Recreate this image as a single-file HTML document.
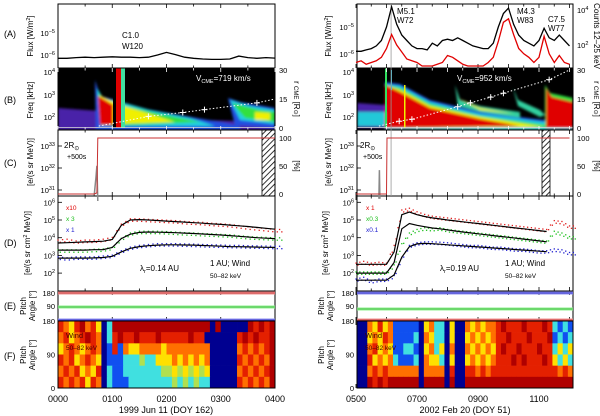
<!DOCTYPE html>
<html><head><meta charset="utf-8"><style>
html,body{margin:0;padding:0;background:#fff;}
svg{display:block;font-family:"Liberation Sans",sans-serif;}
</style></head><body>
<svg id="fig" width="600" height="416" viewBox="0 0 600 416" xmlns="http://www.w3.org/2000/svg">
<defs>
<filter id="soft" x="-5%" y="-5%" width="110%" height="110%"><feGaussianBlur stdDeviation="1.2"/></filter>
<clipPath id="clipBL"><rect x="58" y="68" width="217" height="62"/></clipPath>
<clipPath id="clipBR"><rect x="357" y="68" width="216" height="62"/></clipPath>
<pattern id="hatch" width="4" height="4" patternUnits="userSpaceOnUse" patternTransform="rotate(45)"><rect width="4" height="4" fill="#fff"/><line x1="0" y1="0" x2="0" y2="4" stroke="#000" stroke-width="1.6"/></pattern>
</defs>

<g font-size="9" fill="#000">
<text x="4" y="37">(A)</text><text x="4" y="103">(B)</text><text x="4" y="166">(C)</text>
<text x="4" y="246">(D)</text><text x="4" y="309">(E)</text><text x="4" y="359">(F)</text>
</g>

<g clip-path="url(#clipBL)">
<rect x="58" y="68" width="217" height="62" fill="#000"/>
<g filter="url(#soft)">
<polygon points="58,108 100,111 150,116 200,120 275,122 275,130 58,130" fill="#4a20a8"/>
<polygon points="95,80 100,96 115,100 140,108 180,115 220,122 240,126 240,130 96,130" fill="#2050e0"/>
<polygon points="97,88 103,98 125,103 150,110 190,118 215,126 100,126" fill="#20d0e0"/>
<polygon points="98,92 105,100 125,106 160,114 200,122 110,126" fill="#30e040"/>
<polygon points="99,95 120,105 150,114 175,122 112,124" fill="#f0f000"/>
<polygon points="98,96 105,100 113,105 113,125 100,125" fill="#e00000"/>
<polygon points="228,98 240,102 275,108 275,128 235,125" fill="#2050e0"/>
<polygon points="230,100 250,106 275,110 275,124 240,120" fill="#20d0e0"/>
<polygon points="232,103 260,110 275,112 275,122 245,118" fill="#30e040"/>
<polygon points="255,112 270,113 270,120 255,120" fill="#f0f000"/>
</g>
<rect x="113" y="68" width="3" height="60" fill="#000"/>
<rect x="116" y="68" width="5" height="60" fill="#e00000"/>
<rect x="121" y="68" width="4" height="60" fill="#40e0a0"/>
<line x1="58" y1="127.5" x2="275" y2="127.5" stroke="#ddd" stroke-width="0.8"/>
</g>

<g clip-path="url(#clipBR)">
<rect x="357" y="68" width="216" height="62" fill="#000"/>
<g filter="url(#soft)">
<polygon points="357,103 385,105 385,128 357,128" fill="#4a20a8"/>
<polygon points="357,112 385,112 385,126 357,126" fill="#20c8d8"/>
<polygon points="385,82 400,84 430,100 480,112 560,122 573,124 573,130 385,130" fill="#2050e0"/>
<polygon points="385,84 400,86 430,102 480,114 560,124 573,126 573,130 385,130" fill="#20d0e0"/>
<polygon points="385,85 400,88 430,104 480,116 560,127 385,128" fill="#30e040"/>
<polygon points="385,85 400,90 430,106 480,117 545,127 385,128" fill="#f0f000"/>
<polygon points="385,85 400,92 430,108 480,119 520,126 385,128" fill="#e00000"/>
<polygon points="455,85 460,100 480,106 520,112 520,118 480,112 458,106" fill="#30d0a0"/>
<polygon points="458,98 480,108 515,114 480,110" fill="#f0f000"/>
<polygon points="513,88 518,100 540,110 545,115 540,117 518,106" fill="#30d0a0"/>
<polygon points="545,85 550,93 573,98 573,128 545,128" fill="#30e040"/>
<polygon points="546,88 552,97 573,102 573,128 546,128" fill="#e00000"/>
</g>
<rect x="385" y="68" width="2" height="60" fill="#30e060"/>
<rect x="404" y="85" width="1.5" height="43" fill="#f0f000"/>
<rect x="391" y="70" width="1" height="20" fill="#30c0e0"/>
<line x1="357" y1="127.5" x2="573" y2="127.5" stroke="#ddd" stroke-width="0.8"/>
</g>

<rect x="262" y="130" width="13" height="66" fill="url(#hatch)" stroke="#000" stroke-width="0.8"/>
<rect x="542" y="130" width="8" height="66" fill="url(#hatch)" stroke="#000" stroke-width="0.8"/>

<g id="dyn"></g>

<g font-size="8" fill="#000">
<text x="122" y="38">C1.0</text><text x="122" y="49">W120</text>
<text x="397" y="14">M5.1</text><text x="397" y="23">W72</text>
<text x="517" y="14">M4.3</text><text x="517" y="23">W83</text>
<text x="548" y="22">C7.5</text><text x="548" y="31">W77</text>
<text x="196" y="81" fill="#fff">V<tspan font-size="5.5" dy="2">CME</tspan><tspan dy="-2">=719 km/s</tspan></text>
<text x="457" y="81" fill="#fff">V<tspan font-size="5.5" dy="2">CME</tspan><tspan dy="-2">=952 km/s</tspan></text>
<text x="64" y="148">2R<tspan font-size="6" dy="2">⊙</tspan></text><text x="67" y="159" font-size="7">+500s</text>
<text x="360" y="148">2R<tspan font-size="6" dy="2">⊙</tspan></text><text x="363" y="159" font-size="7">+500s</text>
<text x="140" y="271">λ<tspan font-size="5.5" dy="2">r</tspan><tspan dy="-2">=0.14 AU</tspan></text>
<text x="210" y="266">1 AU; Wind</text><text x="210" y="278" font-size="6.5">50–82 keV</text>
<text x="440" y="271">λ<tspan font-size="5.5" dy="2">r</tspan><tspan dy="-2">=0.19 AU</tspan></text>
<text x="505" y="266">1 AU; Wind</text><text x="505" y="278" font-size="6.5">50–82 keV</text>
<text x="66" y="210" fill="#e00000" font-size="6.5">x10</text>
<text x="66" y="221" fill="#20c020" font-size="6.5">x 3</text>
<text x="66" y="232" fill="#2020d0" font-size="6.5">x 1</text>
<text x="366" y="210" fill="#e00000" font-size="6.5">x 1</text>
<text x="366" y="221" fill="#20c020" font-size="6.5">x0.3</text>
<text x="366" y="232" fill="#2020d0" font-size="6.5">x0.1</text>
</g>

<g font-size="8" fill="#000" text-anchor="middle">
<text transform="translate(33,36) rotate(-90)">Flux [W/m<tspan font-size="5.5" dy="-3">2</tspan><tspan dy="3">]</tspan></text>
<text transform="translate(33,100) rotate(-90)">Freq [kHz]</text>
<text transform="translate(33,162) rotate(-90)">[e/(s sr MeV)]</text>
<text transform="translate(30,243) rotate(-90)">[e/(s sr cm<tspan font-size="5.5" dy="-3">2</tspan><tspan dy="3"> MeV)]</tspan></text>
<text transform="translate(26,306) rotate(-90)">Pitch</text><text transform="translate(35,306) rotate(-90)">Angle [°]</text>
<text transform="translate(26,355) rotate(-90)">Pitch</text><text transform="translate(35,355) rotate(-90)">Angle [°]</text>
<text transform="translate(331,36) rotate(-90)">Flux [W/m<tspan font-size="5.5" dy="-3">2</tspan><tspan dy="3">]</tspan></text>
<text transform="translate(331,100) rotate(-90)">Freq [kHz]</text>
<text transform="translate(331,162) rotate(-90)">[e/(s sr MeV)]</text>
<text transform="translate(328,243) rotate(-90)">[e/(s sr cm<tspan font-size="5.5" dy="-3">2</tspan><tspan dy="3"> MeV)]</tspan></text>
<text transform="translate(324,306) rotate(-90)">Pitch</text><text transform="translate(333,306) rotate(-90)">Angle [°]</text>
<text transform="translate(324,355) rotate(-90)">Pitch</text><text transform="translate(333,355) rotate(-90)">Angle [°]</text>
<text transform="translate(294,99) rotate(90)">r <tspan font-size="6">CME</tspan> [R<tspan font-size="6">⊙</tspan>]</text>
<text transform="translate(294,166) rotate(90)">[%]</text>
<text transform="translate(594,36) rotate(90)">Counts 12–25 keV</text>
<text transform="translate(594,99) rotate(90)">r <tspan font-size="6">CME</tspan> [R<tspan font-size="6">⊙</tspan>]</text>
<text transform="translate(594,166) rotate(90)">[%]</text>
<text x="166" y="413" font-size="9">1999 Jun 11 (DOY 162)</text>
<text x="465" y="413" font-size="9">2002 Feb 20 (DOY 51)</text>
</g>
</svg>
<script>
// ---------- DATA ----------
const leftTicks=["0000","0100","0200","0300","0400"];
const rightTicks=["0500","0700","0900","1100"];
const leftFluxLog=[-6.15,-6.15,-6.12,-6.1,-6.12,-6.1,-6.08,-6.1,-6.1,-6.12,-6.1,-6.0,-5.88,-5.98,-6.1,-6.15,-6.18,-6.2,-6.2,-6.18,-6.05,-6.12,-6.15,-6.12,-6.14];
const rightFluxLog=[-5.9,-5.9,-5.85,-5.8,-5.7,-5.5,-5.0,-4.25,-4.9,-5.3,-5.5,-5.7,-5.8,-5.8,-5.85,-5.6,-5.7,-5.5,-5.45,-5.5,-5.4,-5.5,-5.6,-5.7,-5.75,-5.8,-5.8,-5.6,-5.0,-4.5,-4.3,-4.9,-5.3,-5.5,-5.6,-5.7,-5.5,-5.05,-5.4,-5.5,-5.3,-5.5,-5.7];
const rightCountsLog=[1.0,1.1,0.9,1.0,1.1,1.3,1.8,2.6,2.0,1.6,1.2,1.1,1.0,0.8,0.8,0.8,0.9,1.0,1.4,1.3,1.1,0.9,0.8,0.8,0.8,0.8,1.0,1.3,2.2,3.3,3.5,2.6,1.8,1.5,1.3,1.0,1.3,2.5,1.5,1.0,1.4,1.0,0.9];
const leftCmeTimes=[45,100,138,162,220,240];
const leftCmeR=[1,6,8,9.5,13,15];
const rightCmeTimes=[45,85,110,200,225,265,290,380,420];
const rightCmeR=[1,3.5,4.5,11,13,16,18,25,30];
const leftPct=[[0,0],[40,0],[43,2],[44,100],[240,100]];
const rightPct=[[0,0],[60,0],[61,100],[420,100]];
const leftGreyLog=[[40,30.75],[42,31.6],[43,32.1],[44,30.5]];
const rightGreyLog=[[45,30.6],[46,31.9],[47,30.6]];
const leftRed=[3.8,3.85,3.75,3.8,3.8,3.85,3.95,4.7,5.0,5.0,4.97,4.95,4.92,4.9,4.85,4.82,4.8,4.75,4.72,4.68,4.62,4.55,4.5,4.45,4.4];
const leftGreen=[3.25,3.25,3.25,3.25,3.28,3.3,3.4,3.9,4.2,4.3,4.3,4.3,4.28,4.25,4.22,4.2,4.17,4.15,4.12,4.1,4.05,4.0,3.97,3.95,3.93];
const leftBlue=[2.85,2.8,2.85,2.85,2.85,2.9,2.95,3.2,3.4,3.5,3.55,3.6,3.6,3.6,3.58,3.57,3.55,3.53,3.52,3.5,3.5,3.48,3.47,3.46,3.45];
const leftFitA=[3.7,3.72,3.74,3.76,3.78,3.8,3.9,4.7,5.0,5.02,5.0,4.97,4.94,4.91,4.88,4.85,4.82,4.78,4.75,4.71,4.67,4.63,4.58,4.53,4.48];
const leftFitB=[3.3,3.3,3.3,3.3,3.32,3.33,3.45,3.95,4.2,4.3,4.32,4.31,4.3,4.28,4.26,4.24,4.21,4.18,4.15,4.12,4.08,4.04,4.0,3.97,3.95];
const leftFitC=[2.85,2.85,2.85,2.85,2.86,2.88,2.95,3.2,3.4,3.5,3.55,3.58,3.6,3.6,3.59,3.58,3.56,3.54,3.52,3.5,3.49,3.48,3.47,3.46,3.45];
const rightRed=[2.5,2.6,2.5,2.55,2.5,3.5,5.5,5.6,5.4,5.25,5.15,5.1,5.05,5.0,4.95,4.9,4.85,4.8,4.75,4.7,4.65,4.6,4.55,4.5,4.45,4.4,4.9,4.85,4.6];
const rightGreen=[2.0,2.0,2.0,2.0,2.0,2.4,3.6,4.2,4.4,4.5,4.45,4.5,4.4,4.35,4.3,4.25,4.2,4.15,4.1,4.05,4.0,3.95,3.9,3.85,3.8,3.75,4.3,4.2,4.0];
const rightBlue=[1.6,1.7,1.5,1.6,1.6,1.8,2.8,3.5,3.65,3.7,3.7,3.68,3.65,3.6,3.55,3.5,3.5,3.45,3.4,3.4,3.35,3.3,3.3,3.25,3.2,3.2,3.3,3.25,3.1];
const rightFitA=[2.5,2.5,2.5,2.5,2.5,3.2,5.3,5.45,5.3,5.2,5.12,5.06,5.0,4.95,4.9,4.85,4.8,4.75,4.7,4.65,4.6,4.55,4.5,4.45,4.4,4.35];
const rightFitB=[2.0,2.0,2.0,2.0,2.0,2.6,4.5,4.8,4.7,4.62,4.55,4.5,4.44,4.38,4.32,4.27,4.22,4.17,4.12,4.07,4.02,3.97,3.92,3.87,3.82,3.77];
const rightFitC=[1.6,1.6,1.6,1.6,1.6,1.9,2.9,3.5,3.65,3.68,3.66,3.63,3.6,3.57,3.54,3.51,3.48,3.45,3.42,3.39,3.36,3.33,3.3,3.27,3.24,3.21];
const leftPitchRows=["1231021364000000000000000000606666601010",
"2132101264101101110111110116666661010110",
"3212321265152332222322222222666662121210",
"1213212365554447443332323232666661212120",
"2121323164554444444773737373666662121210",
"1212131264555444444447474744666661212120"];
const rightPitchRows=["662313255555632446366232322101110111014545",
"663231255554623446366323232110111011105454",
"662132355445632436266232323101101110114343",
"661323245554623346366323232111010111013434",
"662121222222622226166112121111111111111212",
"660101000000600006066000000000000000000000"];
</script>
<script>
const NS="http://www.w3.org/2000/svg";
const dyn=document.getElementById("dyn");
function mk(tag,attrs,parent){const e=document.createElementNS(NS,tag);for(const k in attrs)e.setAttribute(k,attrs[k]);(parent||dyn).appendChild(e);return e;}
const L={x0:58,x1:275,t1:240}, R={x0:357,x1:573,t1:425};
function xL(m){return L.x0+m*(L.x1-L.x0)/L.t1;}
function xR(m){return 356+m*30.5/60;}
const yA_L=v=>33-(v+5)*22, yA_R=v=>27-(v+5)*27, yCnt=v=>45-(v-2)*17.5;
const yB=r=>128-r*(58/30);
const yPct=p=>194-p*0.56;
const yCL=v=>168-(v-32)*22;
const yD=v=>220-(v-5)*17.7;
const yP=a=>388-a*(67/180);
function pathFrom(xs,ys){return xs.map((x,i)=>(i?"L":"M")+x.toFixed(1)+","+ys[i].toFixed(1)).join("");}
const panels=[[4,68],[68,130],[130,196],[196,291],[291,321],[321,388]];
function frame(side){
  const P=side==="L"?L:R;
  panels.forEach((p,i)=>{
    const r=mk("rect",{x:P.x0,y:p[0],width:P.x1-P.x0,height:p[1]-p[0],fill:"none",stroke:"#000","stroke-width":"1"});
    
    
    const step=30, tmax=side==="L"?240:420;
    for(let m=0;m<=tmax;m+=step){
      const x=side==="L"?xL(m):xR(m);
      const len=(m%60===0)?4:2.5;
      const col=(i==1)?"#fff":"#000";
      mk("line",{x1:x,y1:p[0],x2:x,y2:p[0]+len,stroke:col,"stroke-width":"0.8"});
      mk("line",{x1:x,y1:p[1],x2:x,y2:p[1]-len,stroke:col,"stroke-width":"0.8"});
    }
  });
}
frame("L");frame("R");
leftTicks.forEach((t,i)=>{const e=mk("text",{x:xL(i*60),y:402,"font-size":"9","text-anchor":"middle"});e.textContent=t;

});
rightTicks.forEach((t,i)=>{const e=mk("text",{x:xR(i*120),y:402,"font-size":"9","text-anchor":"middle"});e.textContent=t;

});
function supLabel(x,y,base,exp,anchor){
  const t=mk("text",{x:x,y:y+3,"font-size":"7.5","text-anchor":anchor||"end"});
  
  
  const a=mk("tspan",{},t);a.textContent=base;
  if(exp!==null){const b=mk("tspan",{"font-size":"5.5",dy:"-3"},t);b.textContent=exp;}
}
[[L.x0,0],[R.x0,1]].forEach(([x0,s])=>{
  const ax=x0-3;
  if(s===0){supLabel(ax,yA_L(-5),"10","−5");supLabel(ax,yA_L(-6),"10","−6");}
  else{supLabel(ax,yA_R(-5),"10","−5");supLabel(ax,yA_R(-6),"10","−6");}
  supLabel(ax,72,"10","4");supLabel(ax,95,"10","3");supLabel(ax,117,"10","2");
  supLabel(ax,yCL(33),"10","33");supLabel(ax,yCL(32),"10","32");supLabel(ax,yCL(31),"10","31");
  [6,5,4,3,2].forEach(d=>supLabel(ax,yD(d),"10",String(d)));
  supLabel(ax,293,"180",null);supLabel(ax,306,"90",null);
  supLabel(ax,yP(180),"180",null);supLabel(ax,yP(90),"90",null);supLabel(ax,yP(0),"0",null);
  [yD(6),yD(5),yD(4),yD(3),yD(2),yCL(33),yCL(32),yCL(31),yP(90)].forEach(y=>mk("line",{x1:x0,y1:y,x2:x0+4,y2:y,stroke:"#000","stroke-width":"0.8"}));
});
[[L.x1+4,0],[R.x1+4,1]].forEach(([x,s])=>{
  supLabel(x,yB(30),"30",null,"start");supLabel(x,yB(15),"15",null,"start");supLabel(x,yB(0),"0",null,"start");
  supLabel(x,yPct(100),"100",null,"start");supLabel(x,yPct(50),"50",null,"start");supLabel(x,yPct(0),"0",null,"start");
});
supLabel(R.x1+4,yCnt(4),"10","4","start");supLabel(R.x1+4,yCnt(2),"10","2","start");
let p=mk("path",{d:pathFrom(leftFluxLog.map((v,i)=>xL(i*10)),leftFluxLog.map(yA_L)),fill:"none",stroke:"#000","stroke-width":"1.3"});


mk("line",{x1:xR(69),y1:4,x2:xR(69),y2:196,stroke:"#999","stroke-width":"0.8"});
p=mk("path",{d:pathFrom(rightCountsLog.map((v,i)=>xR(i*10)),rightCountsLog.map(yCnt)),fill:"none",stroke:"#e00000","stroke-width":"1.3"});


p=mk("path",{d:pathFrom(rightFluxLog.map((v,i)=>xR(i*10)),rightFluxLog.map(yA_R)),fill:"none",stroke:"#000","stroke-width":"1.3"});


function cme(times,rs,xf,name){
  const pth=mk("path",{d:pathFrom(times.map(xf),rs.map(yB)),fill:"none",stroke:"#fff","stroke-width":"1","stroke-dasharray":"1.5 2"});
  
  
  times.forEach((t,i)=>{if(i===0||i===times.length-1)return;const x=xf(t),y=yB(rs[i]);
    mk("path",{d:`M${x-3},${y}h6M${x},${y-3}v6`,stroke:"#fff","stroke-width":"1"});});
}
cme(leftCmeTimes,leftCmeR,xL,"left-cme-height-line");
cme(rightCmeTimes,rightCmeR,xR,"right-cme-height-line");
function pct(arr,xf,name){const pth=mk("path",{d:pathFrom(arr.map(a=>xf(a[0])),arr.map(a=>yPct(a[1]))),fill:"none",stroke:"#c83030","stroke-width":"1"});
  
  }
function grey(arr,xf){const x=arr.map(a=>xf(a[0]));const y=arr.map(a=>yCL(a[1]));
  mk("path",{d:pathFrom(x,y),fill:"none",stroke:"#888","stroke-width":"1.5"});}
grey(leftGreyLog,xL);grey(rightGreyLog,xR);
pct(leftPct,xL,"left-release-percent-line");pct(rightPct,xR,"right-release-percent-line");
function scatter(vals,step,xf,col,name){
  const g=mk("g",{fill:col});
  
  
  vals.forEach((v,i)=>{for(let k=0;k<4;k++){const t=i*step+k*step/4;const vv=i<vals.length-1?v+(vals[i+1]-v)*k/4:v;
    mk("rect",{x:xf(t)-0.6,y:yD(vv)+((k%2)?1.2:-1.2)-0.6,width:1.3,height:1.3},g);}});
}
function fit(vals,step,xf,name){const pth=mk("path",{d:pathFrom(vals.map((v,i)=>xf(i*step)),vals.map(yD)),fill:"none",stroke:"#000","stroke-width":"1.2"});
  
  }
scatter(leftRed,10,xL,"#e02020","left-red-series");scatter(leftGreen,10,xL,"#20c020","left-green-series");scatter(leftBlue,10,xL,"#2020d0","left-blue-series");
fit(leftFitA,10,xL,"left-fit-upper");fit(leftFitB,10,xL,"left-fit-middle");fit(leftFitC,10,xL,"left-fit-lower");
scatter(rightRed,15,xR,"#e02020","right-red-series");scatter(rightGreen,15,xR,"#20c020","right-green-series");scatter(rightBlue,15,xR,"#2020d0","right-blue-series");
fit(rightFitA,15,xR,"right-fit-upper");fit(rightFitB,15,xR,"right-fit-middle");fit(rightFitC,15,xR,"right-fit-lower");
function eLine(x0,x1,y,col,light){mk("line",{x1:x0,y1:y,x2:x1,y2:y,stroke:light,"stroke-width":"3"});mk("line",{x1:x0,y1:y,x2:x1,y2:y,stroke:col,"stroke-width":"0.8"});}
eLine(L.x0,L.x1,293,"#c03030","#f09090");eLine(L.x0,L.x1,307,"#30b030","#90f090");eLine(L.x0,L.x1,320,"#2020c0","#9090f0");
eLine(R.x0,R.x1,293,"#2020c0","#9090f0");eLine(R.x0,R.x1,309,"#30b030","#90f090");eLine(R.x0,R.x1,320,"#c03030","#f09090");
const pal={"0":"#b00000","1":"#e42000","2":"#ff7000","3":"#ffe000","4":"#40e0e0","5":"#1050f0","6":"#000090","7":"#b0e050"};
function heat(rows,x0,x1,name){
  const g=mk("g",{});
  
  
  const n=rows[0].length,w=(x1-x0)/n,h=(yP(0)-yP(180))/rows.length;
  rows.forEach((r,ri)=>{for(let c=0;c<n;c++){mk("rect",{x:(x0+c*w).toFixed(2),y:(yP(180)+ri*h).toFixed(2),width:(w+0.4).toFixed(2),height:(h+0.3).toFixed(2),fill:pal[r[c]]||"#e42000"},g);}});
  mk("rect",{x:x0,y:yP(180),width:x1-x0,height:yP(0)-yP(180),fill:"none",stroke:"#000","stroke-width":"1"});
}
heat(leftPitchRows,L.x0,L.x1,"left-pitch-angle-heatmap");
heat(rightPitchRows,R.x0,R.x1,"right-pitch-angle-heatmap");
[[66,"left"],[365,"right"]].forEach(([x,s])=>{
  let t=mk("text",{x:x,y:338,"font-size":"7.5",fill:"#400"});t.textContent="Wind";
  
  
  t=mk("text",{x:x,y:350,"font-size":"6.5",fill:"#400"});t.textContent="50–82 keV";
  
  
});
</script>
</body></html>
